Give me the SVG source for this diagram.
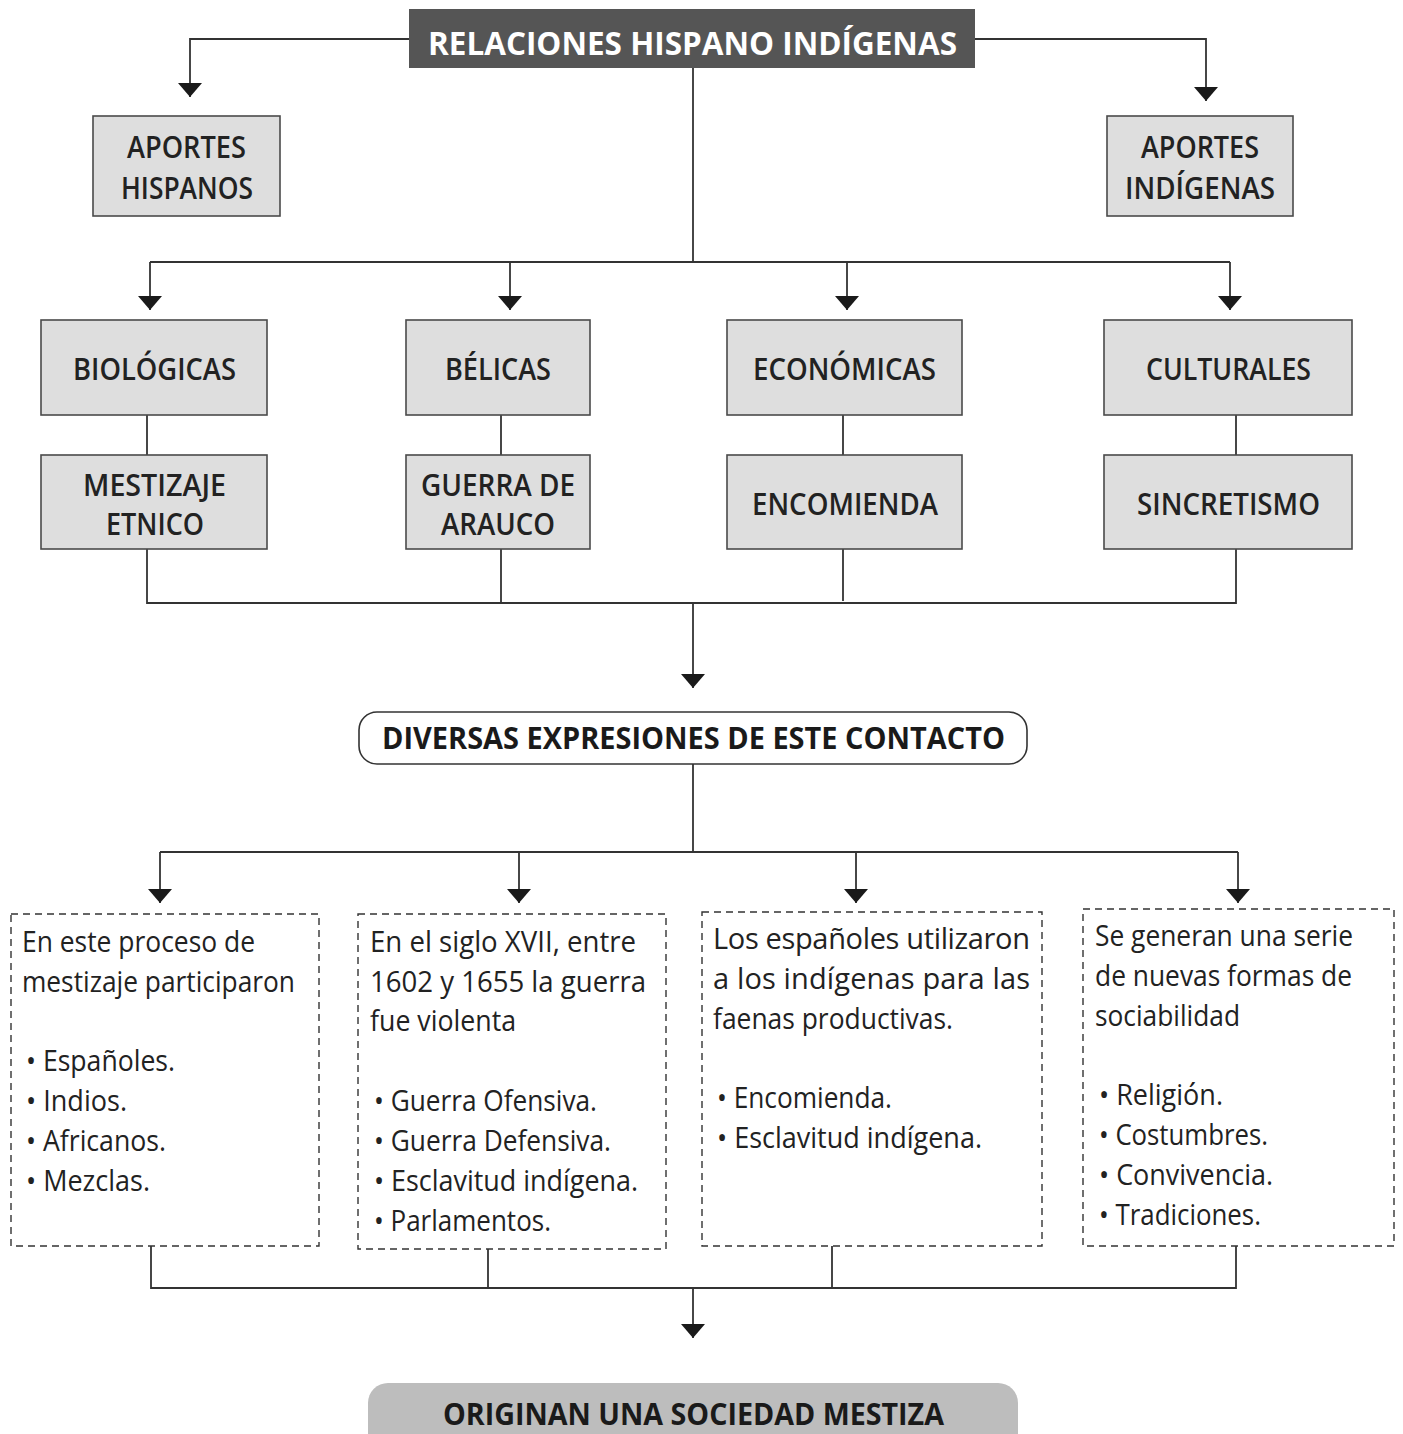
<svg xmlns="http://www.w3.org/2000/svg" width="1403" height="1434" viewBox="0 0 1403 1434">
<style>
.bg{fill:#fff}
.box{fill:#dedede;stroke:#4a4a4a;stroke-width:1.6}
.dash{fill:#fff;stroke:#333;stroke-width:1.4;stroke-dasharray:7 5}
.lbl{font-family:"Open Sans","Noto Sans","Liberation Sans",sans-serif;font-weight:600;font-size:30px;fill:#222}
.big{font-family:"Open Sans","Noto Sans","Liberation Sans",sans-serif;font-weight:700;font-size:31px;fill:#1a1a1a}
.txt{font-family:"Open Sans","Noto Sans","Liberation Sans",sans-serif;font-weight:400;font-size:29px;fill:#222}
.ln{fill:none;stroke:#333;stroke-width:1.8}
</style>
<defs>
<marker id="ah" viewBox="0 0 14 24" refX="14" refY="12" markerWidth="14" markerHeight="24" markerUnits="userSpaceOnUse" orient="auto">
<path d="M0,0 L14,12 L0,24 z" fill="#1a1a1a"/>
</marker>
</defs>
<rect class="bg" x="0" y="0" width="1403" height="1434"/>

<g id="connectors">
<path class="ln" d="M409,39 H190 V97" marker-end="url(#ah)"/>
<path class="ln" d="M975,39 H1206 V101" marker-end="url(#ah)"/>
<path class="ln" d="M693,68 V262"/>
<path class="ln" d="M150,262 H1230"/>
<path class="ln" d="M150,262 V310" marker-end="url(#ah)"/>
<path class="ln" d="M510,262 V310" marker-end="url(#ah)"/>
<path class="ln" d="M847,262 V310" marker-end="url(#ah)"/>
<path class="ln" d="M1230,262 V310" marker-end="url(#ah)"/>
<path class="ln" d="M147,415 V455 M501,415 V455 M843,415 V455 M1236,415 V455"/>
<path class="ln" d="M147,549 V603 H1236 V549 M501,549 V603 M843,549 V601"/>
<path class="ln" d="M693,603 V688" marker-end="url(#ah)"/>
<path class="ln" d="M693,764 V852 M160,852 H1238"/>
<path class="ln" d="M160,852 V903" marker-end="url(#ah)"/>
<path class="ln" d="M519,852 V903" marker-end="url(#ah)"/>
<path class="ln" d="M856,852 V903" marker-end="url(#ah)"/>
<path class="ln" d="M1238,852 V903" marker-end="url(#ah)"/>
<path class="ln" d="M151,1246 V1288 H1236 V1246 M488,1249 V1288 M832,1246 V1288"/>
<path class="ln" d="M693,1288 V1338" marker-end="url(#ah)"/>
</g>

<g id="title">
<rect x="409" y="9" width="566" height="59" fill="#555"/>
<text x="428" y="55" textLength="529" lengthAdjust="spacingAndGlyphs" font-family="'Open Sans','Noto Sans',sans-serif" font-weight="700" font-size="32" fill="#fff">RELACIONES HISPANO INDÍGENAS</text>
</g>

<g id="aportes-hispanos">
<rect class="box" x="93" y="116" width="187" height="100"/>
<text class="lbl" x="127" y="158" textLength="119" lengthAdjust="spacingAndGlyphs">APORTES</text>
<text class="lbl" x="121" y="199" textLength="132" lengthAdjust="spacingAndGlyphs">HISPANOS</text>
</g>
<g id="aportes-indigenas">
<rect class="box" x="1107" y="116" width="186" height="100"/>
<text class="lbl" x="1141" y="158" textLength="118" lengthAdjust="spacingAndGlyphs">APORTES</text>
<text class="lbl" x="1125" y="199" textLength="150" lengthAdjust="spacingAndGlyphs">INDÍGENAS</text>
</g>

<g id="biologicas">
<rect class="box" x="41" y="320" width="226" height="95"/>
<text class="lbl" x="73" y="380" textLength="163" lengthAdjust="spacingAndGlyphs">BIOLÓGICAS</text>
</g>
<g id="belicas">
<rect class="box" x="406" y="320" width="184" height="95"/>
<text class="lbl" x="445" y="380" textLength="106" lengthAdjust="spacingAndGlyphs">BÉLICAS</text>
</g>
<g id="economicas">
<rect class="box" x="727" y="320" width="235" height="95"/>
<text class="lbl" x="753" y="380" textLength="183" lengthAdjust="spacingAndGlyphs">ECONÓMICAS</text>
</g>
<g id="culturales">
<rect class="box" x="1104" y="320" width="248" height="95"/>
<text class="lbl" x="1146" y="380" textLength="165" lengthAdjust="spacingAndGlyphs">CULTURALES</text>
</g>

<g id="mestizaje">
<rect class="box" x="41" y="455" width="226" height="94"/>
<text class="lbl" x="83" y="496" textLength="143" lengthAdjust="spacingAndGlyphs">MESTIZAJE</text>
<text class="lbl" x="106" y="535" textLength="98" lengthAdjust="spacingAndGlyphs">ETNICO</text>
</g>
<g id="guerra">
<rect class="box" x="406" y="455" width="184" height="94"/>
<text class="lbl" x="421" y="496" textLength="154" lengthAdjust="spacingAndGlyphs">GUERRA DE</text>
<text class="lbl" x="441" y="535" textLength="114" lengthAdjust="spacingAndGlyphs">ARAUCO</text>
</g>
<g id="encomienda">
<rect class="box" x="727" y="455" width="235" height="94"/>
<text class="lbl" x="752" y="515" textLength="186" lengthAdjust="spacingAndGlyphs">ENCOMIENDA</text>
</g>
<g id="sincretismo">
<rect class="box" x="1104" y="455" width="248" height="94"/>
<text class="lbl" x="1137" y="515" textLength="183" lengthAdjust="spacingAndGlyphs">SINCRETISMO</text>
</g>

<g id="diversas">
<rect x="359" y="712" width="668" height="52" rx="18" fill="#fff" stroke="#333" stroke-width="1.6"/>
<text class="big" x="382" y="749" textLength="623" lengthAdjust="spacingAndGlyphs">DIVERSAS EXPRESIONES DE ESTE CONTACTO</text>
</g>

<g id="box-biologicas">
<rect class="dash" x="11" y="914" width="308" height="332"/>
<text class="txt" x="22" y="952" textLength="233" lengthAdjust="spacingAndGlyphs">En este proceso de</text>
<text class="txt" x="22" y="992" textLength="273" lengthAdjust="spacingAndGlyphs">mestizaje participaron</text>
<text class="txt" x="26" y="1071" textLength="149" lengthAdjust="spacingAndGlyphs">• Españoles.</text>
<text class="txt" x="26" y="1111" textLength="101" lengthAdjust="spacingAndGlyphs">• Indios.</text>
<text class="txt" x="26" y="1151" textLength="140" lengthAdjust="spacingAndGlyphs">• Africanos.</text>
<text class="txt" x="26" y="1191" textLength="124" lengthAdjust="spacingAndGlyphs">• Mezclas.</text>
</g>
<g id="box-belicas">
<rect class="dash" x="358" y="914" width="308" height="335"/>
<text class="txt" x="370" y="952" textLength="266" lengthAdjust="spacingAndGlyphs">En el siglo XVII, entre</text>
<text class="txt" x="370" y="992" textLength="276" lengthAdjust="spacingAndGlyphs">1602 y 1655 la guerra</text>
<text class="txt" x="370" y="1031" textLength="146" lengthAdjust="spacingAndGlyphs">fue violenta</text>
<text class="txt" x="374" y="1111" textLength="223" lengthAdjust="spacingAndGlyphs">• Guerra Ofensiva.</text>
<text class="txt" x="374" y="1151" textLength="237" lengthAdjust="spacingAndGlyphs">• Guerra Defensiva.</text>
<text class="txt" x="374" y="1191" textLength="264" lengthAdjust="spacingAndGlyphs">• Esclavitud indígena.</text>
<text class="txt" x="374" y="1231" textLength="177" lengthAdjust="spacingAndGlyphs">• Parlamentos.</text>
</g>
<g id="box-economicas">
<rect class="dash" x="702" y="912" width="340" height="334"/>
<text class="txt" x="713" y="949" textLength="317" lengthAdjust="spacing">Los españoles utilizaron</text>
<text class="txt" x="713" y="989" textLength="317" lengthAdjust="spacing">a los indígenas para las</text>
<text class="txt" x="713" y="1029" textLength="240" lengthAdjust="spacingAndGlyphs">faenas productivas.</text>
<text class="txt" x="717" y="1108" textLength="175" lengthAdjust="spacingAndGlyphs">• Encomienda.</text>
<text class="txt" x="717" y="1148" textLength="265" lengthAdjust="spacingAndGlyphs">• Esclavitud indígena.</text>
</g>
<g id="box-culturales">
<rect class="dash" x="1083" y="909" width="311" height="337"/>
<text class="txt" x="1095" y="946" textLength="258" lengthAdjust="spacingAndGlyphs">Se generan una serie</text>
<text class="txt" x="1095" y="986" textLength="257" lengthAdjust="spacingAndGlyphs">de nuevas formas de</text>
<text class="txt" x="1095" y="1026" textLength="145" lengthAdjust="spacingAndGlyphs">sociabilidad</text>
<text class="txt" x="1099" y="1105" textLength="124" lengthAdjust="spacingAndGlyphs">• Religión.</text>
<text class="txt" x="1099" y="1145" textLength="169" lengthAdjust="spacingAndGlyphs">• Costumbres.</text>
<text class="txt" x="1099" y="1185" textLength="174" lengthAdjust="spacingAndGlyphs">• Convivencia.</text>
<text class="txt" x="1099" y="1225" textLength="162" lengthAdjust="spacingAndGlyphs">• Tradiciones.</text>
</g>

<g id="sociedad-mestiza">
<rect x="368" y="1383" width="650" height="80" rx="20" fill="#bdbdbd"/>
<text class="big" x="443" y="1425" textLength="501" lengthAdjust="spacingAndGlyphs">ORIGINAN UNA SOCIEDAD MESTIZA</text>
</g>
</svg>
